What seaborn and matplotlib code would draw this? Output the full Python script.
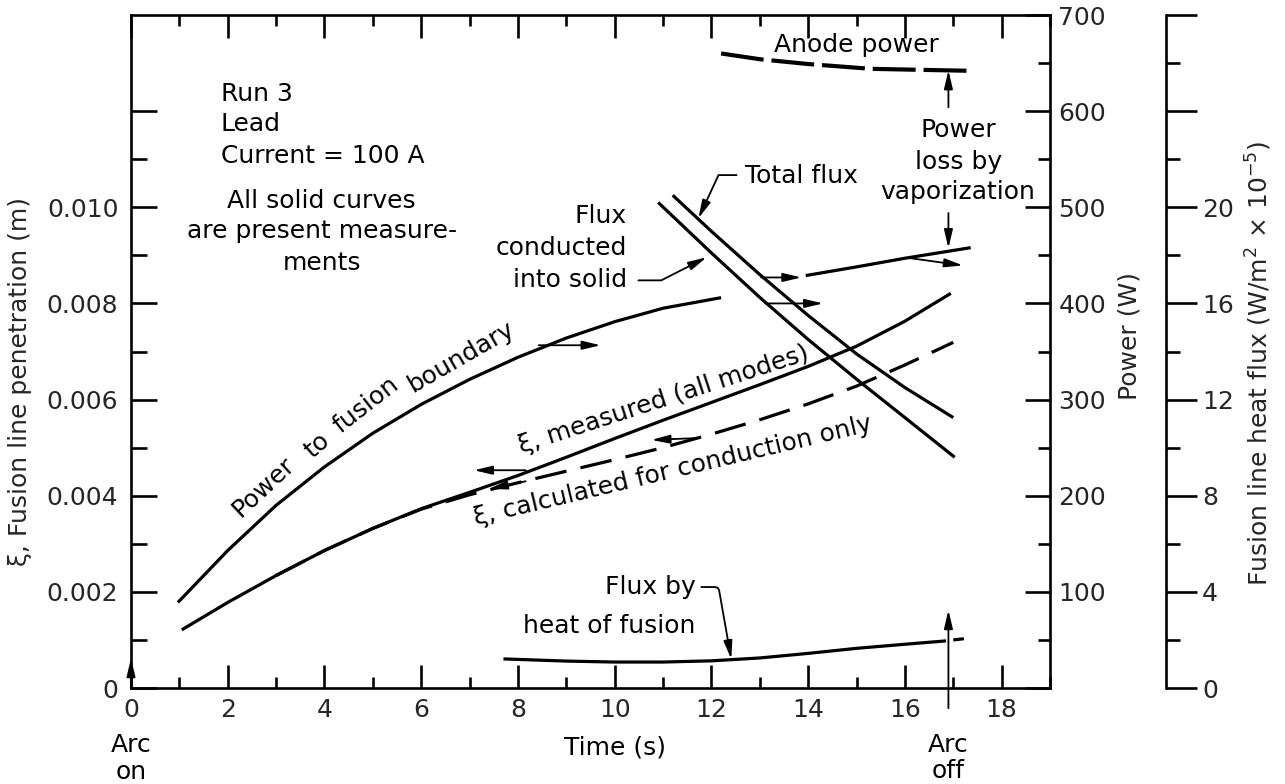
import numpy as np
import matplotlib
matplotlib.use("Agg")
import matplotlib.pyplot as plt
import seaborn as sns
from matplotlib.ticker import MultipleLocator, FixedLocator, FuncFormatter

# ---------------- data ----------------
# Fusion-line penetration xi (mm) vs time (s)
time_xi_measured = [1.05, 2, 3, 4, 5, 6, 7, 8, 9, 10, 11, 12, 13, 14, 15, 16, 16.95]
xi_measured_mm = [1.21, 1.78, 2.34, 2.86, 3.32, 3.73, 4.07, 4.42, 4.80, 5.19, 5.57, 5.94, 6.31, 6.69, 7.11, 7.63, 8.21]

time_xi_calc = [3.0, 4, 5, 6, 7, 8, 9, 10, 11, 12, 13, 14, 15, 16, 17.0]
xi_calc_mm = [2.34, 2.86, 3.32, 3.72, 4.02, 4.27, 4.51, 4.75, 5.00, 5.28, 5.58, 5.91, 6.28, 6.72, 7.19]

# Power (W)
time_power_fusion = [0.97, 2, 3, 4, 5, 6, 7, 8, 9, 10, 11, 12.2]
power_fusion_W = [89, 143, 190, 230, 265, 295, 321, 344, 364, 381, 395, 406]

time_power_late = [13.95, 15.0, 16.0, 17.36]
power_late_W = [429, 438, 447, 458]

time_anode = [12.2, 13.0, 14.0, 15.3, 16.3, 17.3]
anode_power_W = [660, 654, 649, 644, 643, 642]

# Fusion line heat flux (W/m^2 x 1e-5)
time_total_flux = [11.2, 12, 13, 14, 15, 16, 17.0]
total_flux = [20.5, 19.0, 17.2, 15.5, 13.9, 12.5, 11.25]

time_cond_flux = [10.9, 12, 13, 14, 15, 16, 17.03]
cond_flux = [20.2, 18.1, 16.25, 14.5, 12.85, 11.25, 9.6]

time_fusion_flux = [7.7, 9, 10, 11, 12, 13, 14, 15, 16, 16.85]
fusion_flux = [1.21, 1.12, 1.08, 1.08, 1.13, 1.25, 1.44, 1.65, 1.82, 1.96]
time_fusion_flux_ext = [17.0, 17.22]
fusion_flux_ext = [2.0, 2.05]

x_ticks = [0, 2, 4, 6, 8, 10, 12, 14, 16, 18]
xi_tick_labels = ["0", "0.002", "0.004", "0.006", "0.008", "0.010", ""]
power_ticks = [0, 100, 200, 300, 400, 500, 600, 700]
flux_ticks = [0, 4, 8, 12, 16, 20, 24, 28]

# ---------------- style ----------------
sns.set_style("white")
plt.rcParams['font.family'] = ['DejaVu Sans']
plt.rcParams['font.size'] = 18
plt.rcParams['mathtext.fontset'] = 'dejavusans'

W, H = 1285, 784
fig = plt.figure(figsize=(W / 100, H / 100), dpi=100)
ax = fig.add_axes([131 / W, 1 - 688 / H, 919 / W, 673 / H])
ax2 = ax.twinx()
ax3 = ax.twinx()

K = "black"
LW = 2.3
SPW = 1.9

# ---- xi curves (left axis, metres)
sns.lineplot(x=time_xi_measured, y=np.array(xi_measured_mm) / 1000, ax=ax, color=K,
             linewidth=LW, sort=False, estimator=None)
sns.lineplot(x=time_xi_calc, y=np.array(xi_calc_mm) / 1000, ax=ax, color=K,
             linewidth=LW, linestyle=(0, (10, 4.5)), sort=False, estimator=None)

# ---- power curves (power axis)
sns.lineplot(x=time_power_fusion, y=power_fusion_W, ax=ax2, color=K, linewidth=LW,
             sort=False, estimator=None)
sns.lineplot(x=time_power_late, y=power_late_W, ax=ax2, color=K, linewidth=LW,
             sort=False, estimator=None)
sns.lineplot(x=time_anode, y=anode_power_W, ax=ax2, color=K, linewidth=3.0,
             linestyle=(0, (10.3, 1.9)), sort=False, estimator=None)

# ---- heat flux curves (third axis)
sns.lineplot(x=time_total_flux, y=total_flux, ax=ax3, color=K, linewidth=LW,
             sort=False, estimator=None)
sns.lineplot(x=time_cond_flux, y=cond_flux, ax=ax3, color=K, linewidth=LW,
             sort=False, estimator=None)
sns.lineplot(x=time_fusion_flux, y=fusion_flux, ax=ax3, color=K, linewidth=LW,
             sort=False, estimator=None)
sns.lineplot(x=time_fusion_flux_ext, y=fusion_flux_ext, ax=ax3, color=K, linewidth=LW,
             sort=False, estimator=None)

for a in (ax, ax2, ax3):
    for ln in a.get_lines():
        ln.set_solid_joinstyle("round")
        ln.set_solid_capstyle("butt")

# ---------------- axes ----------------
for a in (ax, ax2, ax3):
    a.set_xlim(0, 19)
    a.set_xlabel("")
    a.set_ylabel("")
    a.grid(False)
ax.set_ylim(0, 0.014)
ax2.set_ylim(0, 700)
ax3.set_ylim(0, 28)

for s in ax.spines.values():
    s.set_linewidth(SPW)
    s.set_color(K)
for s in ax2.spines.values():
    s.set_visible(False)
for name, s in ax3.spines.items():
    s.set_visible(name == "right")
ax3.spines["right"].set_position(("axes", (1166 - 131) / 919))
ax3.spines["right"].set_linewidth(SPW)
ax3.spines["right"].set_color(K)

# x axis
ax.xaxis.set_major_locator(FixedLocator(x_ticks))
ax.xaxis.set_minor_locator(MultipleLocator(1))
ax.xaxis.set_major_formatter(FuncFormatter(lambda v, p: f"{v:g}"))
ax.tick_params(axis="x", which="both", direction="in", top=True, bottom=True,
               labeltop=False, width=SPW, color=K, pad=7, labelsize=18)
ax.tick_params(axis="x", which="major", length=16.5)
ax.tick_params(axis="x", which="minor", length=8)

# left y axis
ax.yaxis.set_major_locator(FixedLocator([0, 0.002, 0.004, 0.006, 0.008, 0.010, 0.012]))
ax.yaxis.set_major_formatter(FuncFormatter(
    lambda v, p: xi_tick_labels[p] if p is not None and p < len(xi_tick_labels) else ""))
ax.yaxis.set_minor_locator(FixedLocator([0.001, 0.003, 0.005, 0.007, 0.009, 0.011]))
ax.tick_params(axis="y", which="both", direction="in", left=True, right=False,
               width=SPW, color=K, pad=9, labelsize=18)
ax.tick_params(axis="y", which="major", length=19)
ax.tick_params(axis="y", which="minor", length=11.5)

# power axis
ax2.yaxis.set_major_locator(FixedLocator(power_ticks))
ax2.yaxis.set_minor_locator(MultipleLocator(50))
ax2.yaxis.set_major_formatter(FuncFormatter(lambda v, p: "" if v == 0 else f"{v:.0f}"))
ax2.tick_params(axis="y", which="both", direction="in", right=True, left=False,
                width=SPW, color=K, pad=6, labelsize=18)
ax2.tick_params(axis="y", which="major", length=18)
ax2.tick_params(axis="y", which="minor", length=9)
ax2.tick_params(axis="x", which="both", bottom=False, top=False, labelbottom=False)

# heat flux axis
ax3.yaxis.set_major_locator(FixedLocator(flux_ticks))
ax3.yaxis.set_minor_locator(FixedLocator([2, 6, 10, 14, 18, 22, 26]))
ax3.yaxis.set_major_formatter(FuncFormatter(lambda v, p: f"{v:.0f}" if v <= 20 else ""))
ax3.tick_params(axis="y", which="both", direction="out", right=True, left=False,
                width=SPW, color=K, pad=4, labelsize=18)
ax3.tick_params(axis="y", which="major", length=22)
ax3.tick_params(axis="y", which="minor", length=10)
ax3.tick_params(axis="x", which="both", bottom=False, top=False, labelbottom=False)

# ---------------- axis labels ----------------
fig.text(20 / W, 1 - 382 / H, "ξ, Fusion line penetration (m)", rotation=90,
         ha="center", va="center", fontsize=18)
fig.text(1130 / W, 1 - 336 / H, "Power (W)", rotation=90, ha="center", va="center",
         fontsize=18)
fig.text(1259 / W, 1 - 363 / H, r"Fusion line heat flux (W/m$^2$ × 10$^{-5}$)",
         rotation=90, ha="center", va="center", fontsize=18)

# ---------------- annotations ----------------
def txt(x, y, s, **kw):
    kw.setdefault("va", "baseline")
    kw.setdefault("fontsize", 18)
    ax.text(x, y, s, color=K, **kw)

txt(1.86, 12.22e-3, "Run 3", ha="left")
txt(1.86, 11.59e-3, "Lead", ha="left")
txt(1.86, 10.93e-3, "Current = 100 A", ha="left")
txt(3.94, 9.99e-3, "All solid curves", ha="center")
txt(3.94, 9.37e-3, "are present measure-", ha="center")
txt(3.94, 8.69e-3, "ments", ha="center")

txt(10.25, 9.67e-3, "Flux", ha="right")
txt(10.25, 9.00e-3, "conducted", ha="right")
txt(10.25, 8.34e-3, "into solid", ha="right")

txt(12.70, 10.51e-3, "Total flux", ha="left")
txt(14.99, 13.24e-3, "Anode power", ha="center")
txt(17.1, 11.46e-3, "Power", ha="center")
txt(17.1, 10.80e-3, "loss by", ha="center")
txt(17.1, 10.18e-3, "vaporization", ha="center")

txt(11.67, 1.96e-3, "Flux by", ha="right")
txt(11.67, 1.14e-3, "heat of fusion", ha="right")

txt(10.0, -1.39e-3, "Time (s)", ha="center")
txt(0.0, -1.33e-3, "Arc", ha="center")
txt(0.0, -1.90e-3, "on", ha="center")
txt(16.89, -1.33e-3, "Arc", ha="center")
txt(16.89, -1.87e-3, "off", ha="center")

def rtxt(x, y, s, rot):
    ax.text(x, y, s, rotation=rot, rotation_mode="anchor", ha="center", va="center",
            fontsize=18, color=K)

rtxt(2.74, 4.18e-3, "Power", 43)
rtxt(3.86, 5.05e-3, "to", 41)
rtxt(4.85, 5.88e-3, "fusion", 38)
rtxt(6.82, 6.88e-3, "boundary", 30)
rtxt(11.01, 5.99e-3, "ξ, measured (all modes)", 18)
rtxt(11.2, 4.51e-3, "ξ, calculated for conduction only", 13.4)

AST = "-|>,head_length=0.55,head_width=0.13"

def arrow(p0, p1, conn=None):
    props = dict(arrowstyle=AST, color=K, lw=1.3, shrinkA=0, shrinkB=0, mutation_scale=20)
    if conn:
        props["connectionstyle"] = conn
    ax.annotate("", xy=p1, xytext=p0, arrowprops=props, annotation_clip=False)

# arrows pointing to the axis each curve belongs to
arrow((8.43, 7.13e-3), (9.71, 7.13e-3))
arrow((13.03, 8.54e-3), (13.86, 8.54e-3))
arrow((13.11, 8.00e-3), (14.31, 8.00e-3))
arrow((16.12, 8.94e-3), (17.2, 8.79e-3))
arrow((8.16, 4.53e-3), (7.09, 4.53e-3))
arrow((8.16, 4.30e-3), (7.40, 4.14e-3))
arrow((11.73, 5.20e-3), (10.76, 5.16e-3))

# leaders
arrow((10.49, 8.48e-3), (11.9, 8.96e-3), "angle,angleA=0,angleB=27,rad=0")
arrow((12.52, 10.67e-3), (11.73, 9.77e-3), "angle,angleA=0,angleB=65,rad=0")
arrow((11.79, 2.10e-3), (12.41, 0.60e-3), "angle,angleA=0,angleB=100,rad=4")

# power loss by vaporization
arrow((16.9, 12.08e-3), (16.9, 12.85e-3))
arrow((16.9, 9.88e-3), (16.9, 9.15e-3))

# arc on / arc off
arrow((0.0, 0.0), (0.0, 0.62e-3))
arrow((16.9, -0.42e-3), (16.9, 1.62e-3))

fig.savefig("out.png", dpi=100)
